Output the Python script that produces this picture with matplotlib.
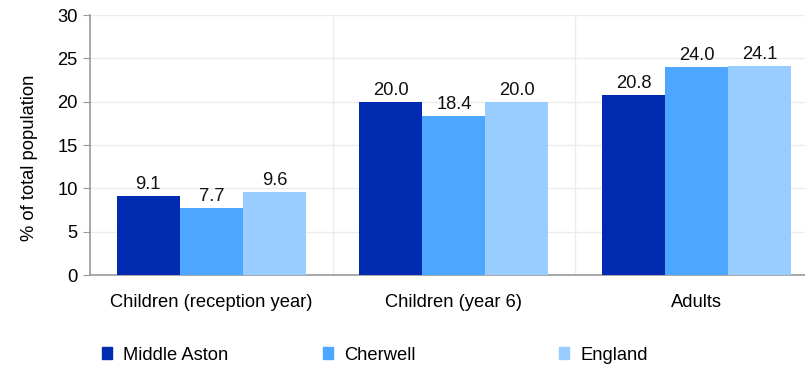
import matplotlib
matplotlib.use("Agg")
import matplotlib.pyplot as plt
from matplotlib.patches import Patch
import numpy as np

categories = ["Children (reception year)", "Children (year 6)", "Adults"]
series_names = ["Middle Aston", "Cherwell", "England"]
middle_aston = [9.1, 20.0, 20.8]
cherwell = [7.7, 18.4, 24.0]
england = [9.6, 20.0, 24.1]
colors = ["#002bb0", "#4da6ff", "#99ccff"]
yticks = [0, 5, 10, 15, 20, 25, 30]

plt.rcParams['font.family'] = ['Liberation Sans', 'DejaVu Sans']
FS = 13.2
W, H = 805, 366
fig = plt.figure(figsize=(W / 100, H / 100), dpi=100)
ax = fig.add_axes([90 / W, 1 - 275 / H, (805 - 90) / W, (275 - 15) / H])

x = np.arange(len(categories))
bw = 0.26
for i, (vals, c) in enumerate(zip([middle_aston, cherwell, england], colors)):
    pos = x + (i - 1) * bw
    ax.bar(pos, vals, width=bw, color=c, zorder=3, label=series_names[i])
    for p, v in zip(pos, vals):
        ax.annotate(f"{v:.1f}", (p, v), xytext=(0, 2), textcoords="offset points",
                    ha="center", va="bottom", fontsize=FS, color="#111111")

ax.set_xlim(-0.5, (805 - 211.5) / 242.5)
ax.set_ylim(0, 30)
ax.set_yticks(yticks)
ax.set_xticks(x)
ax.set_xticklabels(categories, fontsize=FS)
ax.tick_params(axis='x', length=0, pad=14)
ax.tick_params(axis='y', length=5, color="#999999", labelsize=FS, pad=4)
ax.yaxis.grid(True, color="#ececec", linewidth=1, zorder=0)
for s in [0.5, 1.5]:
    ax.axvline(s, color="#ececec", linewidth=1, zorder=0)
for sp in ["top", "right"]:
    ax.spines[sp].set_visible(False)
ax.spines["left"].set_color("#999999")
ax.spines["bottom"].set_color("#999999")
ax.spines["left"].set_linewidth(1.2)
ax.spines["bottom"].set_linewidth(1.2)
ax.set_ylabel("% of total population", fontsize=FS)
ax.yaxis.set_label_coords((30 - 90) / 715, (275 - 158) / 260)
ax.yaxis.label.set_va("center")

leg_x = [102, 323, 559]
for name, c, lx in zip(series_names, colors, leg_x):
    fig.legend(handles=[Patch(color=c, label=name)], loc="center left",
               bbox_to_anchor=(lx / W, 1 - 355 / H), frameon=False,
               handlelength=0.55, handleheight=0.55, handletextpad=0.6,
               fontsize=FS, borderpad=0, borderaxespad=0)

fig.savefig("out.png", dpi=100)
